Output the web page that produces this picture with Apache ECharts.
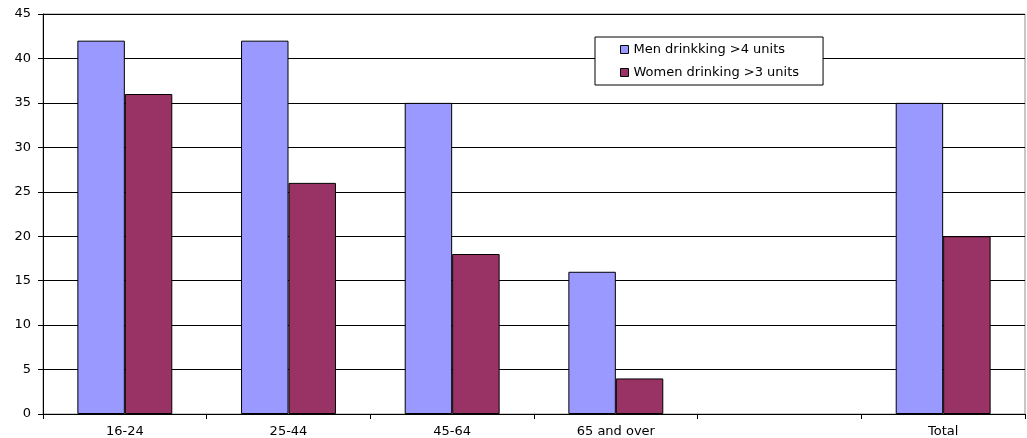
<!DOCTYPE html>
<html>
<head>
<meta charset="utf-8">
<script src="https://cdn.jsdelivr.net/npm/echarts@6/dist/echarts.min.js"></script>
<style>
  html, body { margin: 0; padding: 0; background: #fff; }
  #chart { width: 1027px; height: 438px; }
</style>
</head>
<body>
<div id="chart"></div>
<script>
// Age groups (one blank slot before the total column)
const categories = ['16-24', '25-44', '45-64', '65 and over', '', 'Total'];
const menOver4 = [42, 42, 35, 16, null, 35];
const womenOver3 = [36, 26, 18, 4, null, 20];
const seriesNames = ['Men drinkking >4 units', 'Women drinking >3 units'];

const font = 'DejaVu Sans, Verdana, sans-serif';
const chart = echarts.init(document.getElementById('chart'), null, { renderer: 'canvas' });

chart.setOption({
  animation: false,
  backgroundColor: '#ffffff',
  grid: {
    left: 43, right: 2, top: 14, bottom: 23,
    show: true, borderColor: '#909090', borderWidth: 1
  },
  legend: {
    orient: 'vertical',
    left: 595, top: 37,
    padding: [5, 24, 5, 25],
    itemGap: 8,
    itemWidth: 8, itemHeight: 8,
    icon: 'rect',
    backgroundColor: '#ffffff',
    borderColor: '#000000', borderWidth: 1,
    itemStyle: { borderColor: '#000', borderWidth: 1 },
    textStyle: { fontFamily: font, fontSize: 13, lineHeight: 15, color: '#000' },
    data: seriesNames
  },
  xAxis: {
    type: 'category',
    data: categories,
    axisLine: { lineStyle: { color: '#000', width: 1 } },
    axisTick: { show: true, length: 5, lineStyle: { color: '#000' } },
    axisLabel: { fontFamily: font, fontSize: 13, color: '#000', margin: 11 },
    splitLine: { show: false }
  },
  yAxis: {
    type: 'value',
    min: 0, max: 45, interval: 5,
    axisLine: { show: true, lineStyle: { color: '#000', width: 1 } },
    axisTick: { show: true, length: 5, lineStyle: { color: '#000' } },
    axisLabel: { fontFamily: font, fontSize: 13, color: '#000', margin: 12 },
    splitLine: { show: true, lineStyle: { color: '#000', width: 1 } }
  },
  series: [
    {
      name: seriesNames[0], type: 'bar', data: menOver4,
      barGap: '0%', barCategoryGap: '42%',
      itemStyle: { color: '#9999ff', borderColor: '#000', borderWidth: 1 }
    },
    {
      name: seriesNames[1], type: 'bar', data: womenOver3,
      barGap: '0%', barCategoryGap: '42%',
      itemStyle: { color: '#993366', borderColor: '#000', borderWidth: 1 }
    }
  ]
});
</script>
</body>
</html>
